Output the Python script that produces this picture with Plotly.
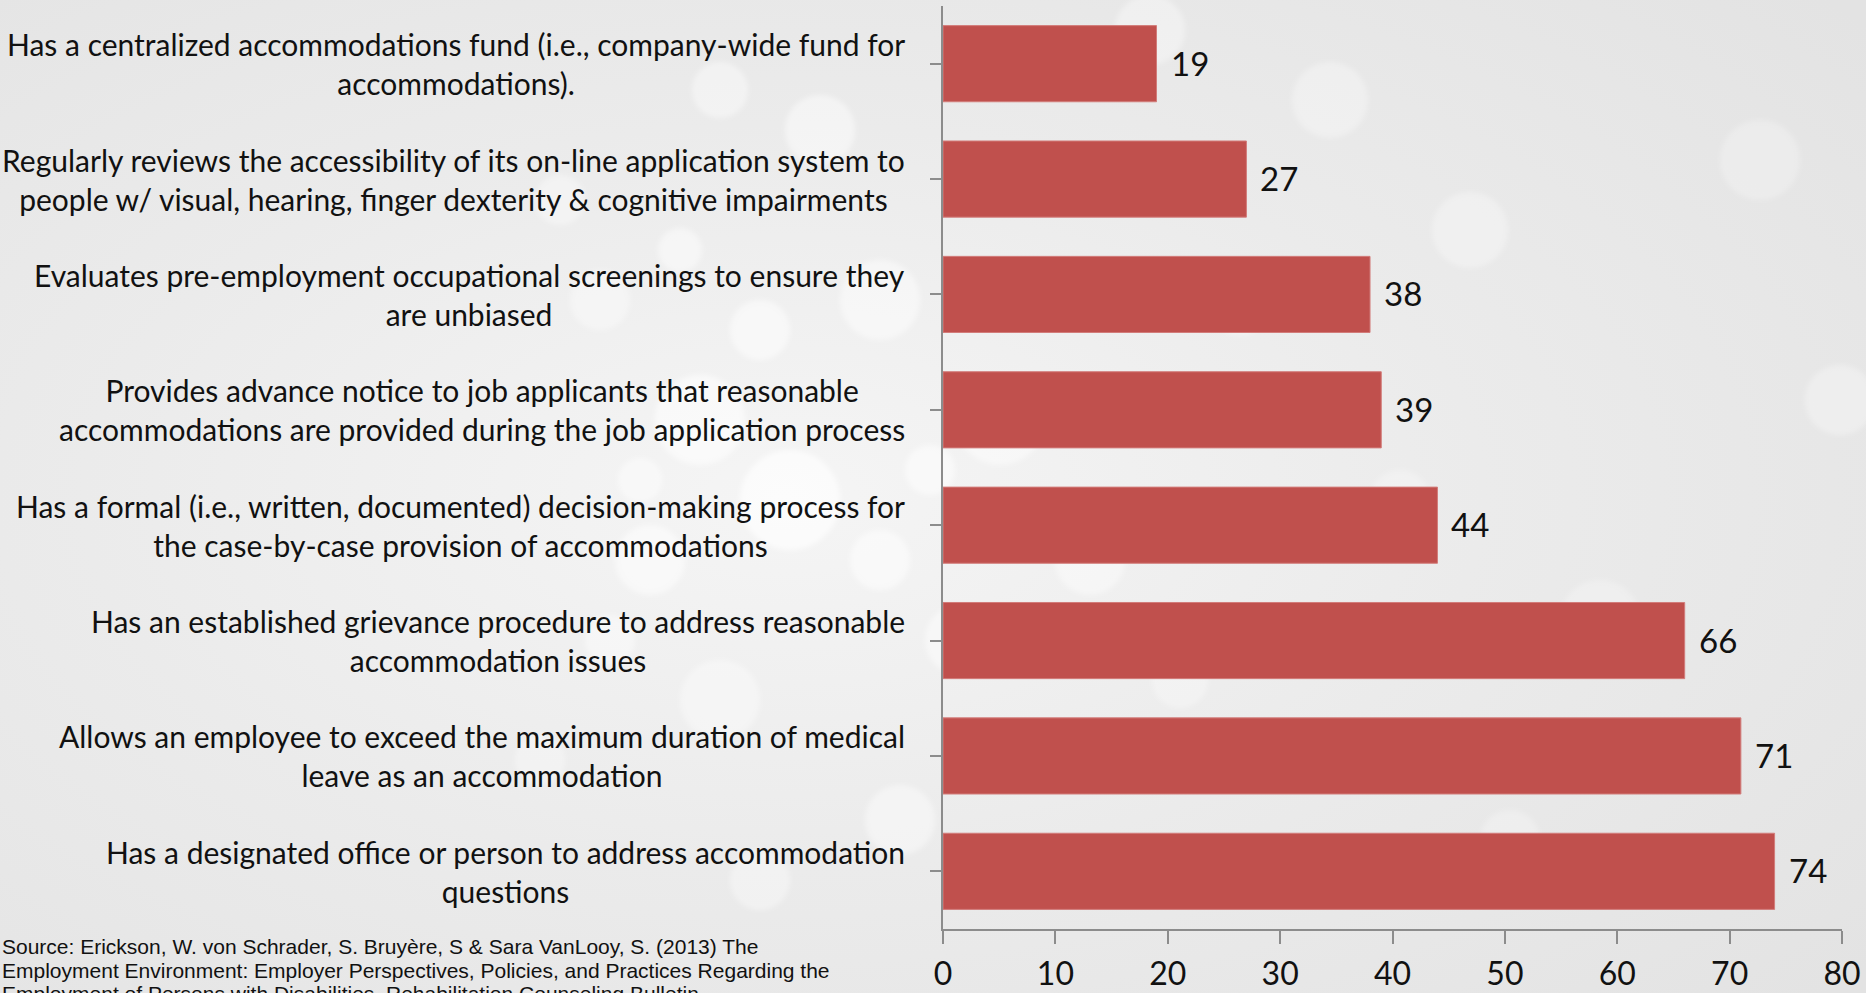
import base64
import plotly.graph_objects as go

categories = [
    "Has a centralized accommodations fund (i.e., company-wide fund for<br>accommodations).",
    "Regularly reviews the accessibility of its on-line application system to<br>people w/ visual, hearing, finger dexterity & cognitive impairments",
    "Evaluates pre-employment occupational screenings to ensure they<br>are unbiased",
    "Provides advance notice to job applicants that reasonable<br>accommodations are provided during the job application process",
    "Has a formal (i.e., written, documented) decision-making process for<br>the case-by-case provision of accommodations",
    "Has an established grievance procedure to address reasonable<br>accommodation issues",
    "Allows an employee to exceed the maximum duration of medical<br>leave as an accommodation",
    "Has a designated office or person to address accommodation<br>questions",
]
values = [19, 27, 38, 39, 44, 66, 71, 74]
x_ticks = [0, 10, 20, 30, 40, 50, 60, 70, 80]
source_lines = [
    "Source: Erickson, W. von Schrader, S. Bruyère, S & Sara VanLooy, S. (2013) The",
    "Employment Environment: Employer Perspectives, Policies, and Practices Regarding the",
    "Employment of Persons with Disabilities. Rehabilitation Counseling Bulletin.",
]

W, H = 1866, 993
L, R, T, B = 943, 24, 6, 64
PW, PH = W - L - R, H - T - B

# decorative bokeh-style background as inline SVG
circles = [
    (700, 420, 45, 0.55), (790, 500, 50, 0.65), (650, 560, 35, 0.5), (880, 300, 40, 0.45),
    (1000, 420, 45, 0.45), (1090, 560, 35, 0.4), (1330, 100, 38, 0.3), (1470, 230, 38, 0.3),
    (1760, 160, 40, 0.25), (1240, 300, 35, 0.35), (820, 130, 35, 0.45), (1150, 30, 35, 0.35),
    (720, 90, 28, 0.4), (600, 300, 30, 0.35), (1840, 400, 35, 0.3), (1600, 620, 40, 0.25),
    (960, 640, 35, 0.45), (720, 700, 40, 0.35), (1400, 500, 30, 0.25), (560, 200, 25, 0.35),
    (760, 330, 30, 0.5), (680, 250, 22, 0.45), (880, 560, 30, 0.5), (610, 640, 25, 0.4),
    (900, 820, 35, 0.4), (760, 880, 30, 0.35), (1020, 760, 30, 0.35), (540, 760, 25, 0.3),
    (640, 480, 22, 0.45), (930, 470, 25, 0.5), (1180, 680, 28, 0.3), (1510, 840, 30, 0.25),
]
svg_c = "".join(
    f'<circle cx="{cx}" cy="{cy}" r="{r}" fill="#ffffff" fill-opacity="{o}" filter="url(#b)"/>'
    for cx, cy, r, o in circles
)
svg = (
    f'<svg xmlns="http://www.w3.org/2000/svg" width="{W}" height="{H}" viewBox="0 0 {W} {H}">'
    '<defs><radialGradient id="g" cx="0.42" cy="0.5" r="0.75">'
    '<stop offset="0" stop-color="#f5f5f5"/><stop offset="0.5" stop-color="#ebebeb"/>'
    '<stop offset="1" stop-color="#e3e3e3"/></radialGradient>'
    '<filter id="b"><feGaussianBlur stdDeviation="2.5"/></filter></defs>'
    f'<rect width="{W}" height="{H}" fill="url(#g)"/>' + svg_c + '</svg>'
)
bg_src = "data:image/svg+xml;base64," + base64.b64encode(svg.encode()).decode()

fig = go.Figure(go.Bar(
    x=values, y=list(range(len(categories))), orientation="h",
    marker=dict(color="#C0504D", line=dict(color="#D27C7A", width=1)),
    width=0.66, hoverinfo="skip",
))

annotations = []
for i, (c, v) in enumerate(zip(categories, values)):
    annotations.append(dict(
        x=0, xref="paper", y=i, yref="y", text=c, showarrow=False,
        xanchor="right", yanchor="middle", align="center", xshift=-36,
        font=dict(family="Lato", size=30, color="#111111"),
    ))
    annotations.append(dict(
        x=v, xref="x", y=i, yref="y", text=str(v), showarrow=False,
        xanchor="left", yanchor="middle", xshift=12, yshift=1,
        font=dict(family="Lato", size=33, color="#111111"),
    ))
for k, line in enumerate(source_lines):
    y_px = 947 + 23 * k
    annotations.append(dict(
        x=-L / PW, xref="paper", y=(T + PH - y_px) / PH, yref="paper",
        text=line, showarrow=False, xanchor="left", yanchor="middle", align="left",
        font=dict(family="Liberation Sans", size=21, color="#111111"),
    ))

fig.update_layout(
    width=W, height=H, margin=dict(l=L, r=R, t=T, b=B, autoexpand=False),
    paper_bgcolor="#e8e8e8", plot_bgcolor="rgba(0,0,0,0)",
    showlegend=False, annotations=annotations,
    images=[dict(source=bg_src, xref="paper", yref="paper",
                 x=-L / PW, y=1 + T / PH, sizex=W / PW, sizey=H / PH,
                 xanchor="left", yanchor="top", sizing="stretch", layer="below")],
    xaxis=dict(range=[0, 80], tickvals=x_ticks, showgrid=False, zeroline=False,
               showline=True, linecolor="#8c8c8c", linewidth=1.5,
               ticks="outside", ticklen=13, tickcolor="#8c8c8c", tickwidth=1.5,
               ticklabelstandoff=3, automargin=False,
               tickfont=dict(family="Lato", size=32, color="#111111")),
    yaxis=dict(range=[len(categories) - 0.5, -0.5], tickvals=list(range(len(categories))),
               showticklabels=False, showgrid=False, zeroline=False, automargin=False,
               showline=True, linecolor="#8c8c8c", linewidth=1.5,
               ticks="outside", ticklen=11, tickcolor="#8c8c8c", tickwidth=1.5,
               tickson="boundaries"),
)

fig.write_html("out.html", config={"displayModeBar": False},
               post_script="document.body.style.margin='0';document.body.style.overflow='hidden';")
